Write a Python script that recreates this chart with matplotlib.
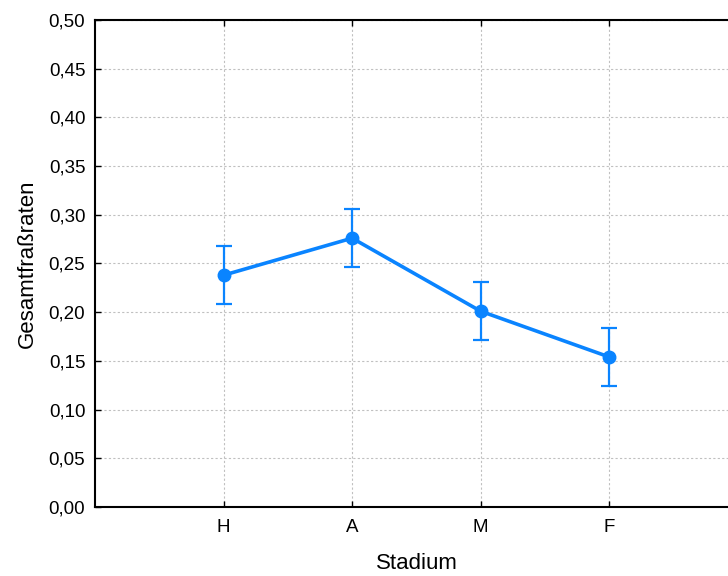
import matplotlib
matplotlib.use("Agg")
import matplotlib.pyplot as plt
import numpy as np

stadien = ["H", "A", "M", "F"]
mittelwerte = [0.238, 0.276, 0.201, 0.154]
fehler = [0.030, 0.030, 0.030, 0.030]

plt.rcParams['font.family'] = ['Liberation Sans', 'DejaVu Sans']

fig = plt.figure(figsize=(7.28, 5.76), dpi=100)
ax = fig.add_axes([0.1305, 0.1198, 0.883, 0.8455])

x = np.arange(1, len(stadien) + 1)
farbe = '#0a84ff'
ax.errorbar(x, mittelwerte, yerr=fehler, color=farbe, lw=2.6, marker='o', ms=9,
            elinewidth=1.6, capsize=6, capthick=1.6, zorder=3)

ax.set_xlim(0, 5)
ax.set_ylim(0, 0.5)
ax.set_xticks(x)
ax.set_xticklabels(stadien)
yt = np.arange(0, 0.501, 0.05)
ax.set_yticks(yt)
ax.set_yticklabels([f"{v:.2f}".replace(".", ",") for v in yt])
ax.tick_params(direction='in', length=4, width=1, labelsize=13.5, top=True, right=True, pad=7)
ax.tick_params(axis='x', pad=9)
ax.grid(True, color='#c0c0c0', linestyle=(0, (2, 2)), linewidth=0.8)
for s in ax.spines.values():
    s.set_linewidth(1.5)

ax.set_xlabel("Stadium", fontsize=16, labelpad=12)
ax.set_ylabel("Gesamtfraßraten", fontsize=16, labelpad=8)

fig.savefig("out.png", dpi=100)
